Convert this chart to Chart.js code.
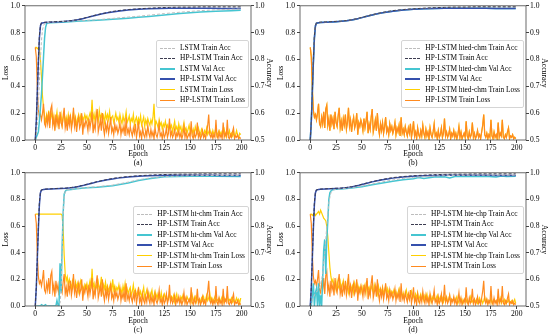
<!DOCTYPE html>
<html>
<head>
<meta charset="utf-8">
<script src="https://cdn.jsdelivr.net/npm/chart.js@4/dist/chart.umd.min.js"></script>
<style>
body{margin:0;background:#fff;}
#wrap{position:relative;width:550px;height:334px;}
.panel{position:absolute;width:275px;height:167px;}
.legend{position:absolute;right:26px;background:rgba(255,255,255,0.8);border:1px solid #d5d5d5;border-radius:2px;padding:2px 3px;font:7.4px "Liberation Serif",serif;color:#000;}
.legend div{height:10.4px;line-height:10.4px;white-space:nowrap;}
.legend span.s{display:inline-block;width:15px;height:0;vertical-align:middle;margin-right:5px;}
</style>
</head>
<body>
<div id="wrap">
<div class="panel" style="left:0;top:0"><canvas id="cA" width="275" height="167"></canvas><div class="legend" id="lA" style="top:40px"></div></div>
<div class="panel" style="left:275px;top:0"><canvas id="cB" width="275" height="167"></canvas><div class="legend" id="lB" style="top:40px"></div></div>
<div class="panel" style="left:0;top:167px"><canvas id="cC" width="275" height="167"></canvas><div class="legend" id="lC" style="top:39px"></div></div>
<div class="panel" style="left:275px;top:167px"><canvas id="cD" width="275" height="167"></canvas><div class="legend" id="lD" style="top:39px"></div></div>
</div>
<script>
// tick labels
const xTicks = [0,25,50,75,100,125,150,175,200];

// HP-LSTM (baseline, same in every panel)
const hpAccEp = [0,1,2,3,4,5,6,8,10,15,20,25,30,35,40,45,50,55,60,65,70,75,80,90,100,110,120,130,140,150,160,170,180,190,199];
const hpValAcc = [0.50,0.57,0.68,0.79,0.88,0.925,0.935,0.937,0.938,0.939,0.940,0.941,0.942,0.944,0.947,0.951,0.956,0.961,0.966,0.970,0.974,0.977,0.980,0.984,0.987,0.989,0.990,0.991,0.991,0.991,0.991,0.991,0.990,0.990,0.990];
const hpTrainAcc = [0.50,0.57,0.68,0.80,0.89,0.928,0.936,0.938,0.939,0.940,0.941,0.942,0.943,0.945,0.948,0.952,0.957,0.962,0.967,0.971,0.975,0.979,0.982,0.986,0.989,0.991,0.993,0.994,0.995,0.995,0.996,0.996,0.996,0.996,0.996];
const hpLoss = [
0.69,0.62,0.38,0.22,0.17,0.19,0.15,0.20,0.27,0.12,
0.10,0.17,0.12,0.21,0.09,0.23,0.26,0.11,0.16,0.07,
0.19,0.12,0.16,0.08,0.21,0.13,0.10,0.18,0.24,0.09,
0.14,0.07,0.16,0.11,0.19,0.08,0.13,0.24,0.10,0.15,
0.06,0.13,0.17,0.09,0.12,0.20,0.04,0.13,0.10,0.15,
0.12,0.07,0.16,0.09,0.14,0.21,0.05,0.12,0.08,0.17,
0.23,0.06,0.10,0.15,0.07,0.20,0.09,0.04,0.12,0.07,
0.13,0.05,0.10,0.17,0.06,0.09,0.04,0.12,0.07,0.10,
0.05,0.08,0.13,0.04,0.09,0.06,0.11,0.03,0.17,0.05,
0.08,0.04,0.10,0.06,0.03,0.09,0.05,0.12,0.02,0.07,
0.14,0.03,0.06,0.01,0.09,0.04,0.02,0.07,0.03,0.11,
0.05,0.02,0.08,0.03,0.06,0.01,0.09,0.04,0.02,0.06,
0.12,0.03,0.05,0.01,0.07,0.02,0.04,0.09,0.02,0.05,
0.16,0.03,0.06,0.02,0.04,0.08,0.01,0.05,0.03,0.07,
0.02,0.05,0.01,0.04,0.10,0.02,0.06,0.01,0.03,0.05,
0.02,0.14,0.03,0.01,0.06,0.02,0.04,0.13,0.02,0.05,
0.01,0.03,0.07,0.02,0.04,0.01,0.06,0.11,0.19,0.04,
0.02,0.05,0.01,0.04,0.02,0.15,0.03,0.01,0.06,0.02,
0.04,0.01,0.13,0.02,0.05,0.03,0.15,0.02,0.01,0.04,
0.02,0.06,0.09,0.01,0.03,0.02,0.04,0.01,0.02,0.01];

// (a) LSTM
const lstmTrainEp = [0,1,2,3,4,5,6,7,8,9,10,12,15,20,25,30,40,50,60,75,90,100,110,125,140,150,160,175,190,199];
const lstmTrainAcc = [0.50,0.52,0.56,0.63,0.72,0.80,0.87,0.91,0.927,0.933,0.936,0.938,0.939,0.940,0.941,0.942,0.944,0.946,0.948,0.953,0.958,0.961,0.965,0.971,0.976,0.979,0.982,0.985,0.987,0.988];
const lstmValEp = [0,1,2,3,4,5,6,7,8,9,10,11,12,15,20,25,30,40,50,60,75,90,100,110,125,140,150,160,175,190,199];
const lstmValAcc = [0.50,0.51,0.52,0.53,0.57,0.62,0.67,0.74,0.81,0.88,0.92,0.933,0.936,0.937,0.938,0.939,0.940,0.942,0.944,0.946,0.950,0.954,0.957,0.960,0.966,0.971,0.974,0.977,0.980,0.982,0.983];
const lstmLoss = [
0.69,0.69,0.68,0.69,0.68,0.60,0.47,0.33,0.24,0.18,
0.13,0.19,0.15,0.22,0.12,0.17,0.20,0.13,0.18,0.10,
0.16,0.21,0.12,0.17,0.14,0.19,0.11,0.16,0.20,0.13,
0.17,0.12,0.19,0.14,0.18,0.11,0.15,0.21,0.13,0.17,
0.10,0.16,0.19,0.14,0.18,0.13,0.17,0.15,0.19,0.16,
0.18,0.14,0.17,0.20,0.16,0.30,0.15,0.19,0.13,0.21,
0.17,0.14,0.22,0.16,0.19,0.15,0.18,0.13,0.20,0.16,
0.19,0.15,0.21,0.14,0.17,0.18,0.13,0.16,0.20,0.15,
0.17,0.13,0.19,0.15,0.12,0.18,0.14,0.16,0.21,0.13,
0.15,0.18,0.12,0.16,0.14,0.19,0.11,0.15,0.17,0.12,
0.16,0.13,0.18,0.11,0.14,0.17,0.10,0.15,0.12,0.16,
0.13,0.11,0.15,0.12,0.17,0.27,0.10,0.14,0.12,0.09,
0.15,0.11,0.13,0.08,0.12,0.10,0.14,0.09,0.11,0.07,
0.13,0.09,0.11,0.06,0.10,0.14,0.08,0.10,0.06,0.12,
0.08,0.10,0.05,0.09,0.13,0.07,0.09,0.05,0.08,0.11,
0.06,0.09,0.05,0.08,0.04,0.10,0.07,0.05,0.09,0.06,
0.04,0.08,0.06,0.03,0.07,0.05,0.09,0.04,0.06,0.08,
0.05,0.03,0.07,0.04,0.06,0.09,0.03,0.05,0.07,0.04,
0.06,0.03,0.05,0.08,0.04,0.02,0.06,0.04,0.07,0.03,
0.05,0.03,0.06,0.02,0.04,0.07,0.03,0.02,0.05,0.04];

// (c) HP-LSTM ht-chm
const htTrainEp = [0,20,24,25,26,27,28,29,30,35,40,50,60,75,90,100,110,125,150,175,199];
const htTrainAcc = [0.50,0.50,0.51,0.56,0.70,0.84,0.91,0.93,0.936,0.938,0.941,0.945,0.948,0.954,0.965,0.974,0.980,0.986,0.989,0.990,0.990];
const htValEp = [0,5,6,8,10,11,15,20,21,22,23,24,25,26,27,28,29,30,35,40,50,60,75,90,100,110,125,150,175,199];
const htValAcc = [0.50,0.50,0.505,0.50,0.505,0.50,0.50,0.50,0.52,0.50,0.50,0.66,0.55,0.72,0.85,0.92,0.93,0.935,0.937,0.940,0.944,0.946,0.951,0.962,0.971,0.978,0.985,0.987,0.987,0.986];
const htLoss = [
0.69,0.69,0.69,0.69,0.69,0.69,0.69,0.69,0.69,0.69,
0.69,0.69,0.69,0.69,0.69,0.69,0.69,0.69,0.69,0.69,
0.69,0.69,0.69,0.69,0.69,0.69,0.68,0.58,0.38,0.24,
0.19,0.22,0.15,0.20,0.17,0.13,0.19,0.16,0.12,0.18,
0.14,0.17,0.11,0.16,0.19,0.13,0.15,0.10,0.16,0.14,
0.17,0.12,0.15,0.19,0.13,0.28,0.14,0.17,0.11,0.16,
0.13,0.18,0.12,0.15,0.22,0.11,0.16,0.13,0.18,0.12,
0.15,0.11,0.14,0.17,0.10,0.20,0.12,0.15,0.11,0.14,
0.12,0.16,0.10,0.13,0.09,0.15,0.11,0.17,0.10,0.13,
0.09,0.12,0.14,0.08,0.11,0.16,0.09,0.12,0.08,0.10,
0.13,0.08,0.11,0.07,0.10,0.14,0.06,0.09,0.12,0.07,
0.10,0.06,0.09,0.12,0.05,0.08,0.11,0.06,0.09,0.05,
0.08,0.05,0.10,0.04,0.07,0.09,0.05,0.08,0.04,0.06,
0.09,0.04,0.07,0.05,0.08,0.03,0.06,0.09,0.04,0.06,
0.03,0.07,0.05,0.08,0.04,0.06,0.03,0.07,0.05,0.04,
0.06,0.03,0.08,0.04,0.05,0.07,0.03,0.06,0.04,0.05,
0.03,0.06,0.04,0.07,0.03,0.05,0.08,0.04,0.06,0.10,
0.04,0.06,0.03,0.05,0.07,0.03,0.05,0.04,0.06,0.03,
0.05,0.07,0.03,0.06,0.04,0.05,0.08,0.03,0.05,0.04,
0.06,0.03,0.05,0.02,0.04,0.06,0.03,0.05,0.02,0.06];

// (d) HP-LSTM hte-chp
const hteTrainEp = [0,2,5,8,10,12,14,16,18,20,22,25,30,40,50,60,70,80,90,100,120,140,160,180,199];
const hteTrainAcc = [0.50,0.52,0.55,0.56,0.58,0.62,0.70,0.80,0.89,0.925,0.935,0.938,0.940,0.944,0.950,0.958,0.966,0.973,0.979,0.983,0.988,0.990,0.991,0.991,0.991];
const hteValEp = [0,1,2,3,4,5,6,7,8,9,10,11,12,13,14,15,16,17,18,19,20,21,22,25,30,40,50,60,70,80,90,100,105,110,120,130,135,140,150,160,170,180,185,190,199];
const hteValAcc = [0.50,0.50,0.54,0.585,0.50,0.55,0.565,0.50,0.585,0.50,0.54,0.50,0.60,0.71,0.75,0.62,0.75,0.82,0.90,0.925,0.932,0.935,0.937,0.938,0.939,0.943,0.948,0.955,0.962,0.968,0.974,0.978,0.982,0.979,0.984,0.985,0.981,0.986,0.987,0.986,0.987,0.984,0.988,0.986,0.987];
const hteLoss = [
0.69,0.69,0.68,0.69,0.70,0.68,0.69,0.70,0.71,0.69,
0.72,0.70,0.68,0.66,0.65,0.64,0.60,0.52,0.40,0.29,
0.22,0.18,0.20,0.14,0.17,0.12,0.19,0.15,0.13,0.18,
0.12,0.16,0.19,0.11,0.15,0.13,0.18,0.10,0.14,0.16,
0.12,0.15,0.10,0.17,0.13,0.11,0.16,0.12,0.14,0.10,
0.15,0.11,0.13,0.16,0.10,0.19,0.12,0.14,0.09,0.15,
0.13,0.10,0.16,0.12,0.14,0.09,0.15,0.11,0.13,0.10,
0.14,0.09,0.12,0.15,0.08,0.13,0.10,0.12,0.08,0.11,
0.09,0.12,0.08,0.11,0.07,0.10,0.13,0.08,0.10,0.07,
0.10,0.06,0.09,0.12,0.07,0.09,0.05,0.08,0.11,0.06,
0.08,0.05,0.09,0.06,0.10,0.04,0.07,0.09,0.05,0.07,
0.04,0.08,0.06,0.09,0.04,0.06,0.08,0.03,0.07,0.05,
0.07,0.04,0.06,0.08,0.03,0.05,0.07,0.04,0.06,0.03,
0.06,0.04,0.07,0.03,0.05,0.08,0.03,0.05,0.04,0.06,
0.03,0.05,0.07,0.02,0.04,0.06,0.03,0.05,0.02,0.04,
0.06,0.03,0.05,0.02,0.04,0.07,0.03,0.04,0.02,0.05,
0.03,0.05,0.02,0.04,0.06,0.03,0.05,0.02,0.04,0.07,
0.03,0.05,0.02,0.04,0.03,0.06,0.02,0.04,0.05,0.03,
0.04,0.02,0.05,0.03,0.06,0.02,0.04,0.03,0.05,0.02,
0.04,0.03,0.05,0.02,0.03,0.04,0.02,0.03,0.05,0.02];

const FONT = "'Liberation Serif', 'Times New Roman', serif";

function pairs(ep, vals){ return ep.map((e,i)=>({x:e, y:vals[i]})); }
function byEpoch(vals){ return vals.map((v,i)=>({x:i, y:v})); }

// legend order: light train acc, HP train acc, light val acc, HP val acc, light loss, HP loss
const styles = [
  {color:'#bdbdbd', dash:[3,2], width:1, axis:'yR', order:1},
  {color:'#3c3c50', dash:[3,2], width:1, axis:'yR', order:0},
  {color:'#45c5d1', dash:[], width:1.5, axis:'yR', order:3},
  {color:'#3550ad', dash:[], width:1.5, axis:'yR', order:2},
  {color:'#ffcf00', dash:[], width:1.2, axis:'yL', order:5},
  {color:'#ff8a1f', dash:[], width:1.2, axis:'yL', order:4}
];

const frame = {
  id:'frame',
  afterDraw(chart){
    const a = chart.chartArea, c = chart.ctx;
    c.save();
    c.strokeStyle = '#444';
    c.lineWidth = 0.8;
    c.strokeRect(a.left, a.top, a.right-a.left, a.bottom-a.top);
    c.restore();
  }
};

function makePanel(canvasId, legendId, tag, names, series, top){
  const datasets = series.map((d,i)=>({
    label:names[i],
    data:d,
    borderColor:styles[i].color,
    borderDash:styles[i].dash,
    borderWidth:styles[i].width,
    yAxisID:styles[i].axis,
    order:styles[i].order,
    pointRadius:0,
    fill:false,
    tension:0
  }));
  const tickFont = {family:FONT, size:7.6, lineHeight:1};
  const titleFont = {family:FONT, size:7.6, lineHeight:1.15};
  new Chart(document.getElementById(canvasId),{
    type:'line',
    data:{datasets:datasets},
    options:{
      responsive:false,
      animation:false,
      layout:{padding:{top:top, left:0, right:0, bottom:0}},
      plugins:{legend:{display:false}, tooltip:{enabled:false}},
      scales:{
        x:{
          type:'linear', min:-9.95, max:208.95,
          afterBuildTicks:s=>{ s.ticks = xTicks.map(v=>({value:v})); },
          afterFit:s=>{ s.height = 167 - 135 - top; },
          ticks:{color:'#000', font:tickFont, padding:1, maxRotation:0, callback:v=>String(v)},
          grid:{drawOnChartArea:false, tickLength:3, color:'#444'},
          border:{display:false},
          title:{display:true, text:['Epoch', tag], color:'#000', font:titleFont, padding:{top:0, bottom:0}}
        },
        yL:{
          type:'linear', position:'left', min:0, max:1,
          afterFit:s=>{ s.width = 25; },
          ticks:{stepSize:0.2, color:'#000', font:tickFont, padding:2, callback:v=>v.toFixed(1)},
          grid:{drawOnChartArea:false, tickLength:3, color:'#444'},
          border:{display:false},
          title:{display:true, text:'Loss', color:'#000', font:titleFont, padding:{top:2, bottom:0}}
        },
        yR:{
          type:'linear', position:'right', min:0.5, max:1,
          afterFit:s=>{ s.width = 24; },
          ticks:{stepSize:0.1, color:'#000', font:tickFont, padding:1, callback:v=>v.toFixed(1)},
          grid:{drawOnChartArea:false, tickLength:3, color:'#444'},
          border:{display:false},
          title:{display:true, text:'Accuracy', color:'#000', font:titleFont, padding:{top:2, bottom:0}}
        }
      }
    },
    plugins:[frame]
  });
  // legend box drawn as html, inside the plot area
  const box = document.getElementById(legendId);
  names.forEach((n,i)=>{
    const row = document.createElement('div');
    const s = document.createElement('span');
    s.className = 's';
    const w = styles[i].dash.length ? 1 : (i < 4 ? 2.2 : 1.5);
    s.style.borderTop = w + 'px ' + (styles[i].dash.length ? 'dashed ' : 'solid ') + styles[i].color;
    row.appendChild(s);
    row.appendChild(document.createTextNode(n));
    box.appendChild(row);
  });
}

function names(light, hp){
  return [light+' Train Acc', hp+' Train Acc', light+' Val Acc', hp+' Val Acc', light+' Train Loss', hp+' Train Loss'];
}

const hpTrainSeries = pairs(hpAccEp, hpTrainAcc);
const hpValSeries = pairs(hpAccEp, hpValAcc);
const hpLossSeries = byEpoch(hpLoss);

makePanel('cA','lA','(a)', names('LSTM','HP-LSTM'),
  [pairs(lstmTrainEp, lstmTrainAcc), hpTrainSeries, pairs(lstmValEp, lstmValAcc), hpValSeries, byEpoch(lstmLoss), hpLossSeries], 5);
makePanel('cB','lB','(b)', names('HP-LSTM hted-chm','HP-LSTM'),
  [pairs(hpAccEp, hpTrainAcc), hpTrainSeries, pairs(hpAccEp, hpValAcc), hpValSeries, byEpoch(hpLoss), hpLossSeries], 5);
makePanel('cC','lC','(c)', names('HP-LSTM ht-chm','HP-LSTM'),
  [pairs(htTrainEp, htTrainAcc), hpTrainSeries, pairs(htValEp, htValAcc), hpValSeries, byEpoch(htLoss), hpLossSeries], 4);
makePanel('cD','lD','(d)', names('HP-LSTM hte-chp','HP-LSTM'),
  [pairs(hteTrainEp, hteTrainAcc), hpTrainSeries, pairs(hteValEp, hteValAcc), hpValSeries, byEpoch(hteLoss), hpLossSeries], 4);
</script>
</body>
</html>
